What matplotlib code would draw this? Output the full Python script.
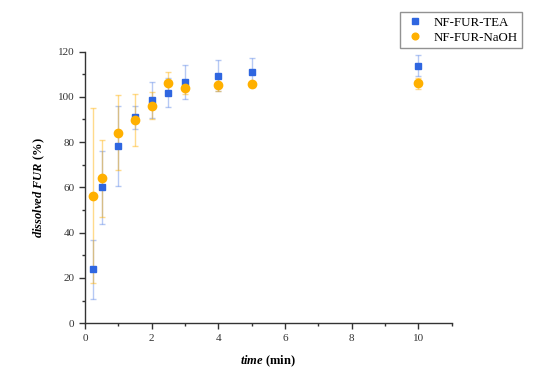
import matplotlib
matplotlib.use('Agg')
import matplotlib.pyplot as plt
from matplotlib.ticker import MultipleLocator

# data
time_min = [0.25, 0.5, 1, 1.5, 2, 2.5, 3, 4, 5, 10]
tea_mean = [23.8, 60.0, 78.3, 91.0, 98.7, 101.9, 106.6, 109.4, 110.8, 113.8]
tea_err = [13.0, 16.0, 17.5, 5.0, 8.0, 6.5, 7.5, 7.0, 6.5, 4.8]
naoh_mean = [56.3, 64.0, 84.2, 89.8, 96.0, 106.0, 104.1, 105.4, 105.6, 106.0]
naoh_err = [38.6, 17.0, 16.6, 11.4, 6.0, 5.0, 3.0, 2.7, 1.0, 2.5]

plt.rcParams['font.family'] = ['Liberation Serif', 'DejaVu Serif']
plt.rcParams['mathtext.fontset'] = 'custom'
plt.rcParams['mathtext.bfit'] = 'Liberation Serif:italic:bold'
plt.rcParams['mathtext.it'] = 'Liberation Serif:italic'
plt.rcParams['mathtext.rm'] = 'Liberation Serif'

blue = '#2f66e0'
orange = '#ffb000'

fig = plt.figure(figsize=(5.47, 3.71), dpi=100)
ax = fig.add_axes([0.1554, 0.129, 0.6706, 0.732])

ax.errorbar(time_min, tea_mean, yerr=tea_err, fmt='none', ecolor=blue, alpha=0.35,
            elinewidth=1, capsize=2.5, capthick=1)
ax.errorbar(time_min, naoh_mean, yerr=naoh_err, fmt='none', ecolor=orange, alpha=0.45,
            elinewidth=1, capsize=2.5, capthick=1)
ax.plot(time_min, tea_mean, 's', color=blue, markersize=5, label='NF-FUR-TEA')
ax.plot(time_min, naoh_mean, 'o', color=orange, markersize=6, label='NF-FUR-NaOH')

ax.set_xlim(0, 11)
ax.set_ylim(0, 120)
ax.xaxis.set_major_locator(MultipleLocator(2))
ax.xaxis.set_minor_locator(MultipleLocator(1))
ax.yaxis.set_major_locator(MultipleLocator(20))
ax.yaxis.set_minor_locator(MultipleLocator(10))
ax.spines['top'].set_visible(False)
ax.spines['right'].set_visible(False)
for s in ['left', 'bottom']:
    ax.spines[s].set_color('#333333')
    ax.spines[s].set_linewidth(1)
ax.tick_params(which='major', direction='out', length=4, width=1, labelsize=8, colors='#333333')
ax.tick_params(which='minor', direction='out', length=2.5, width=1, colors='#333333')

ax.set_xlabel(r'$\mathbfit{time}$ (min)', fontsize=9, fontweight='bold', labelpad=8)
ax.set_ylabel(r'$\mathbfit{dissolved\ FUR}$ (%)', fontsize=9, fontweight='bold', labelpad=8)

fig.legend(loc='upper right', bbox_to_anchor=(0.966, 0.985), fontsize=9.3,
           frameon=True, fancybox=False, edgecolor='#777777', handletextpad=0.6,
           handlelength=1.6, borderpad=0.35, labelspacing=0.25, markerscale=0.8)

fig.savefig('out.png', dpi=100)
